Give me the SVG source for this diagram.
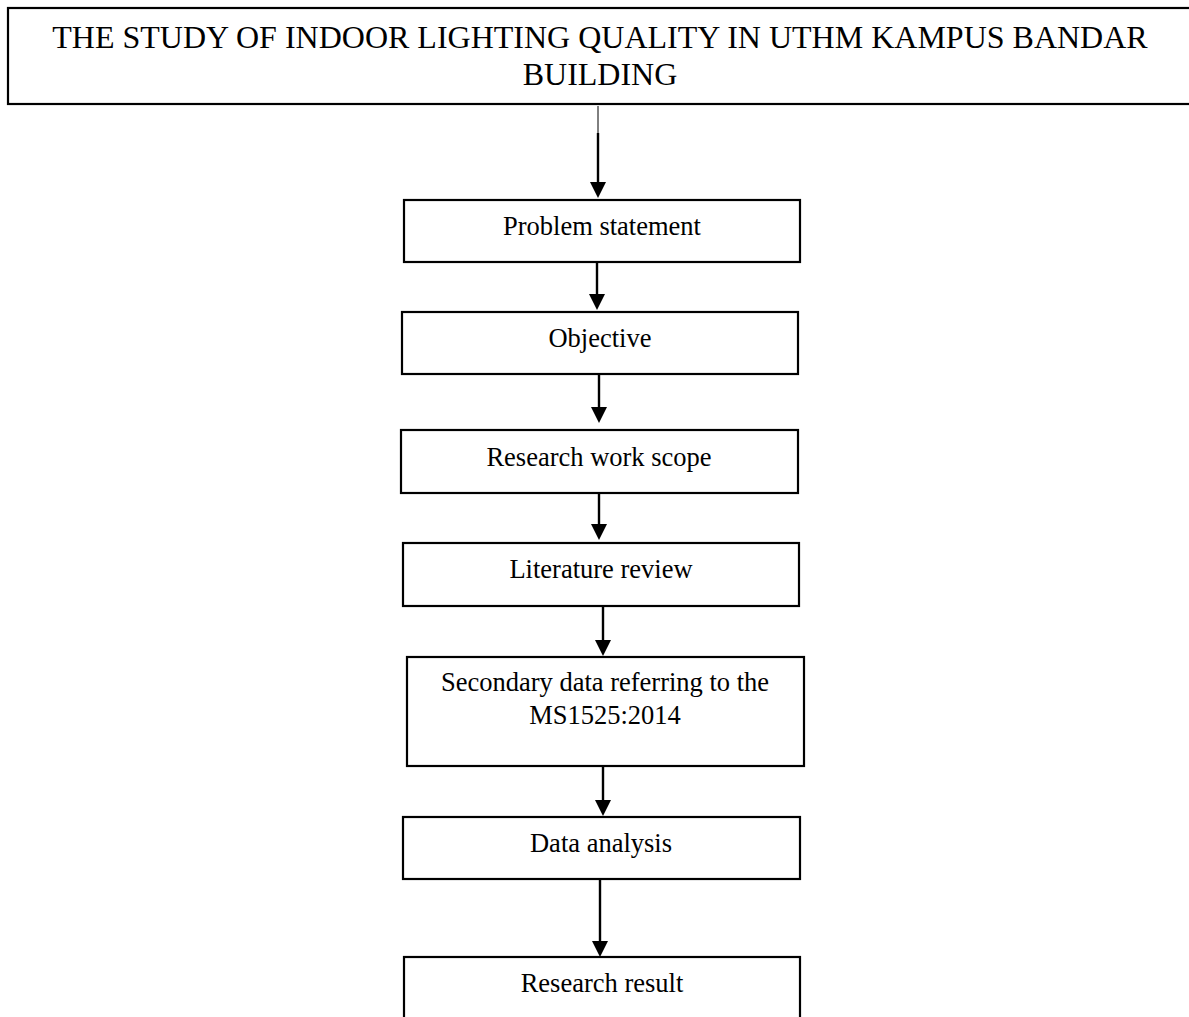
<svg xmlns="http://www.w3.org/2000/svg" width="1189" height="1017" viewBox="0 0 1189 1017">
  <style>
    .box { fill: #ffffff; stroke: #000000; stroke-width: 2.2; }
    .lbl { font-family: "Liberation Serif", "Times New Roman", serif; font-size: 26.5px; fill: #000000; text-anchor: middle; }
    .ttl { font-family: "Liberation Serif", "Times New Roman", serif; font-size: 32px; fill: #000000; text-anchor: middle; }
    .conn { stroke: #000000; stroke-width: 2.4; fill: none; marker-end: url(#arrow); }
    .thin { stroke: #000000; stroke-width: 1; fill: none; }
  </style>
  <defs>
    <marker id="arrow" viewBox="0 0 16 16" refX="4" refY="8" markerWidth="16" markerHeight="16" markerUnits="userSpaceOnUse" orient="auto">
      <path d="M0,0 L16,8 L0,16 z" fill="#000000"/>
    </marker>
  </defs>
  <rect width="1189" height="1017" fill="#ffffff"/>

  <g id="connectors">
    <line class="thin" x1="598" y1="106" x2="598" y2="134"/>
    <line class="conn" x1="598" y1="133" x2="598" y2="186"/>
    <line class="conn" x1="597" y1="262" x2="597" y2="298"/>
    <line class="conn" x1="599" y1="374" x2="599" y2="411"/>
    <line class="conn" x1="599" y1="490" x2="599" y2="528"/>
    <line class="conn" x1="603" y1="606" x2="603" y2="644"/>
    <line class="conn" x1="603" y1="766" x2="603" y2="804"/>
    <line class="conn" x1="600" y1="879" x2="600" y2="945"/>
  </g>

  <g id="title">
    <rect class="box" x="8" y="8" width="1200" height="96"/>
    <text class="ttl" x="600" y="48">THE STUDY OF INDOOR LIGHTING QUALITY IN UTHM KAMPUS BANDAR</text>
    <text class="ttl" x="600" y="85">BUILDING</text>
  </g>

  <g id="problem">
    <rect class="box" x="404" y="200" width="396" height="62"/>
    <text class="lbl" x="602" y="235">Problem statement</text>
  </g>

  <g id="objective">
    <rect class="box" x="402" y="312" width="396" height="62"/>
    <text class="lbl" x="600" y="347">Objective</text>
  </g>

  <g id="scope">
    <rect class="box" x="401" y="430" width="397" height="63"/>
    <text class="lbl" x="599" y="466">Research work scope</text>
  </g>

  <g id="literature">
    <rect class="box" x="403" y="543" width="396" height="63"/>
    <text class="lbl" x="601" y="578">Literature review</text>
  </g>

  <g id="secondary">
    <rect class="box" x="407" y="657" width="397" height="109"/>
    <text class="lbl" x="605" y="691">Secondary data referring to the</text>
    <text class="lbl" x="605" y="724">MS1525:2014</text>
  </g>

  <g id="analysis">
    <rect class="box" x="403" y="817" width="397" height="62"/>
    <text class="lbl" x="601" y="852">Data analysis</text>
  </g>

  <g id="result">
    <rect class="box" x="404" y="957" width="396" height="80"/>
    <text class="lbl" x="602" y="992">Research result</text>
  </g>
</svg>
